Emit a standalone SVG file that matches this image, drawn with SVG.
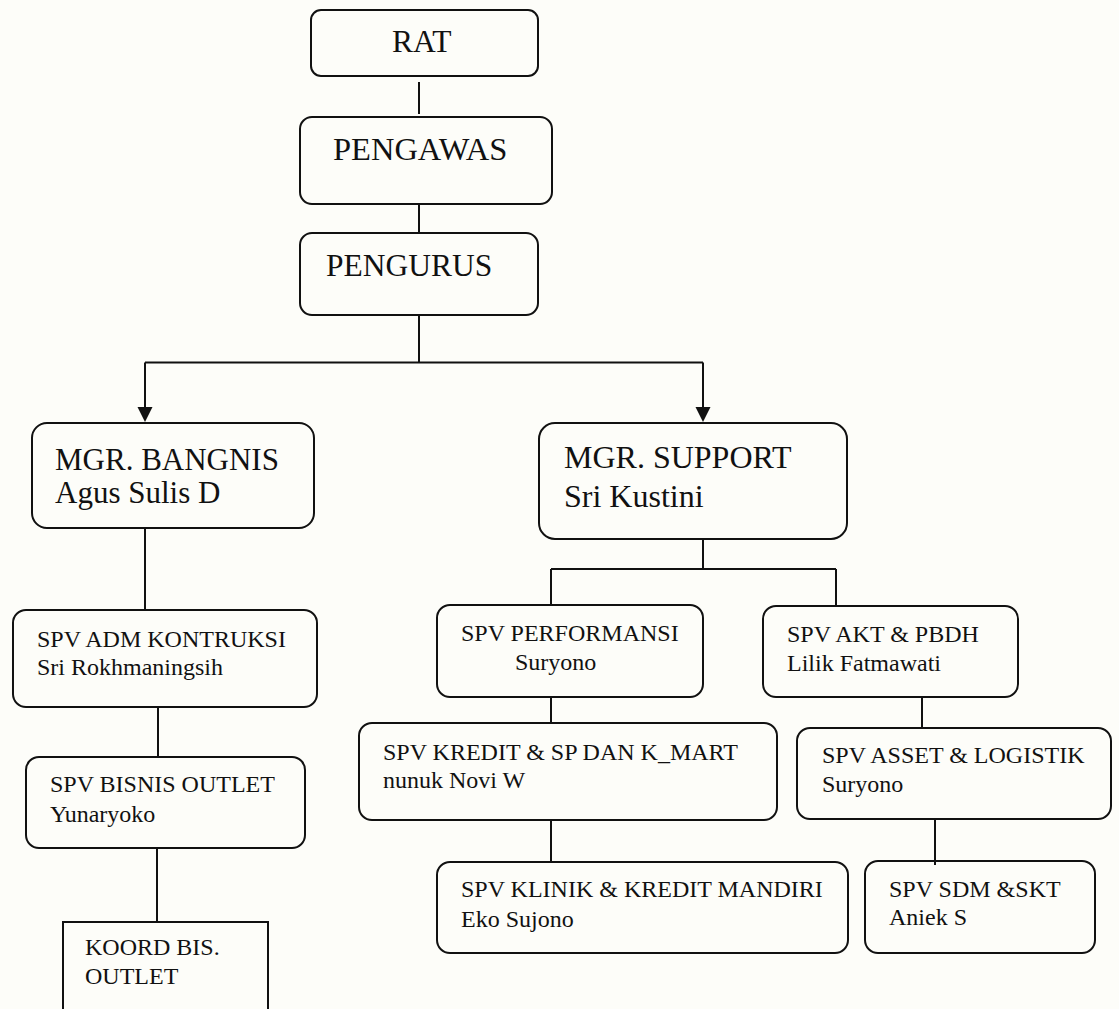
<svg xmlns="http://www.w3.org/2000/svg" width="1119" height="1009" viewBox="0 0 1119 1009">
<style>
.box{fill:none;stroke:#111;stroke-width:2}
.ln{fill:none;stroke:#111;stroke-width:2}
text{font-family:"Liberation Serif","Times New Roman",serif;fill:#111}
.big{font-size:31.5px}
.pg{font-size:32.5px}
.sup{font-size:32px}
.mgr{font-size:31px}
.spv{font-size:24px}
</style>
<rect width="1119" height="1009" fill="#fdfdf9"/>
<g id="connectors">
<line class="ln" x1="419" y1="82" x2="419" y2="114"/>
<line class="ln" x1="419" y1="204" x2="419" y2="233"/>
<line class="ln" x1="419" y1="315" x2="419" y2="362.5"/>
<line class="ln" x1="145" y1="362.5" x2="703" y2="362.5"/>
<path class="ln" d="M145,362.5 V407"/>
<path class="ln" d="M703,362.5 V407"/>
<path d="M137.5,407 L152.5,407 L145,422 Z" fill="#111"/>
<path d="M695.5,407 L710.5,407 L703,422 Z" fill="#111"/>
<line class="ln" x1="145" y1="528" x2="145" y2="610"/>
<line class="ln" x1="158" y1="707" x2="158" y2="757"/>
<line class="ln" x1="157" y1="848" x2="157" y2="922"/>
<line class="ln" x1="703" y1="539" x2="703" y2="569"/>
<line class="ln" x1="551" y1="569" x2="836" y2="569"/>
<line class="ln" x1="551" y1="569" x2="551" y2="605"/>
<line class="ln" x1="836" y1="569" x2="836" y2="606"/>
<line class="ln" x1="551" y1="697" x2="551" y2="723"/>
<line class="ln" x1="551" y1="820" x2="551" y2="862"/>
<line class="ln" x1="922" y1="697" x2="922" y2="728"/>
<line class="ln" x1="935" y1="819" x2="935" y2="865"/>
</g>
<g id="rat">
<rect class="box" x="311" y="10" width="227" height="66" rx="10"/>
<text class="big" x="392" y="52">RAT</text>
</g>
<g id="pengawas">
<rect class="box" x="300" y="117" width="252" height="87" rx="12"/>
<text class="pg" x="333" y="160">PENGAWAS</text>
</g>
<g id="pengurus">
<rect class="box" x="300" y="233" width="238" height="82" rx="12"/>
<text class="big" x="326" y="276">PENGURUS</text>
</g>
<g id="mgr-bangnis">
<rect class="box" x="32" y="423" width="282" height="105" rx="15"/>
<text class="mgr" x="55" y="470">MGR. BANGNIS</text>
<text class="mgr" x="55" y="503">Agus Sulis D</text>
</g>
<g id="mgr-support">
<rect class="box" x="539" y="423" width="308" height="116" rx="16"/>
<text class="sup" x="564" y="468">MGR. SUPPORT</text>
<text class="sup" x="564" y="507">Sri Kustini</text>
</g>
<g id="spv-adm">
<rect class="box" x="13" y="610" width="304" height="97" rx="13"/>
<text class="spv" x="37" y="647">SPV ADM KONTRUKSI</text>
<text class="spv" x="37" y="675">Sri Rokhmaningsih</text>
</g>
<g id="spv-bisnis">
<rect class="box" x="26" y="757" width="279" height="91" rx="13"/>
<text class="spv" x="50" y="792">SPV BISNIS OUTLET</text>
<text class="spv" x="50" y="822">Yunaryoko</text>
</g>
<g id="koord">
<rect class="box" x="63" y="922" width="205" height="92"/>
<text class="spv" x="85" y="955">KOORD BIS.</text>
<text class="spv" x="85" y="984">OUTLET</text>
</g>
<g id="spv-performansi">
<rect class="box" x="437" y="605" width="266" height="92" rx="13"/>
<text class="spv" x="461" y="641">SPV PERFORMANSI</text>
<text class="spv" x="515" y="670">Suryono</text>
</g>
<g id="spv-akt">
<rect class="box" x="763" y="606" width="255" height="91" rx="13"/>
<text class="spv" x="787" y="642">SPV AKT &amp; PBDH</text>
<text class="spv" x="787" y="671">Lilik Fatmawati</text>
</g>
<g id="spv-kredit">
<rect class="box" x="359" y="723" width="418" height="97" rx="13"/>
<text class="spv" x="383" y="760">SPV KREDIT &amp; SP DAN K_MART</text>
<text class="spv" x="383" y="788">nunuk Novi W</text>
</g>
<g id="spv-asset">
<rect class="box" x="797" y="728" width="314" height="91" rx="13"/>
<text class="spv" x="822" y="763">SPV ASSET &amp; LOGISTIK</text>
<text class="spv" x="822" y="792">Suryono</text>
</g>
<g id="spv-klinik">
<rect class="box" x="437" y="862" width="411" height="91" rx="13"/>
<text class="spv" x="461" y="897">SPV KLINIK &amp; KREDIT MANDIRI</text>
<text class="spv" x="461" y="927">Eko Sujono</text>
</g>
<g id="spv-sdm">
<rect class="box" x="865" y="861" width="230" height="92" rx="13"/>
<text class="spv" x="889" y="897">SPV SDM &amp;SKT</text>
<text class="spv" x="889" y="925">Aniek S</text>
</g>
</svg>
